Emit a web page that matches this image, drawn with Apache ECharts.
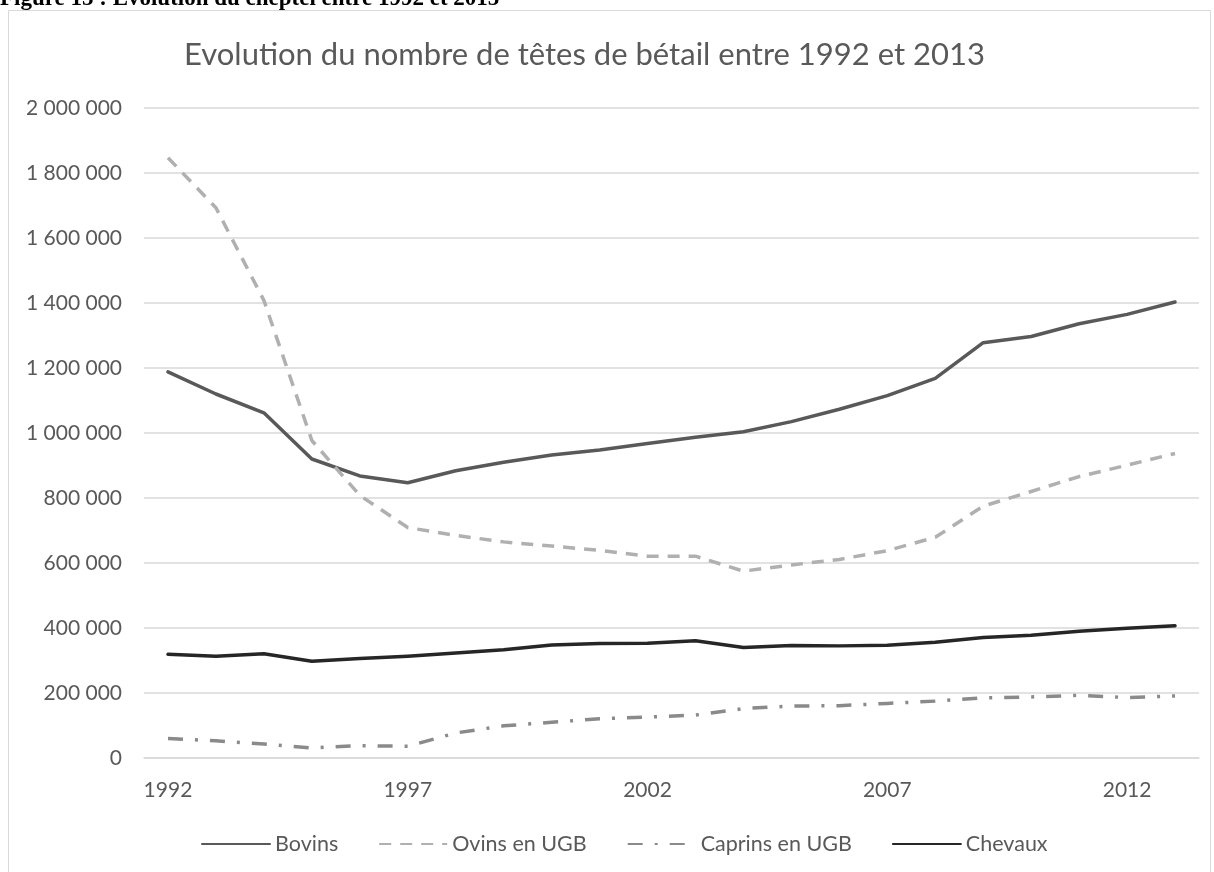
<!DOCTYPE html>
<html>
<head>
<meta charset="utf-8">
<script src="https://cdn.jsdelivr.net/npm/echarts@6/dist/echarts.min.js"></script>
<style>
  html, body { margin: 0; padding: 0; background: #fff; }
  #chart { width: 1214px; height: 872px; }
</style>
</head>
<body>
<div id="chart"></div>
<script>
// données
const years = ['1992', '1993', '1994', '1995', '1996', '1997', '1998', '1999', '2000', '2001', '2002',
  '2003', '2004', '2005', '2006', '2007', '2008', '2009', '2010', '2011', '2012', '2013']
const bovins = [1188000, 1120000, 1062000, 920000, 868000, 847000, 884000, 910000, 932000, 948000, 968000,
  987000, 1004000, 1035000, 1073000, 1115000, 1168000, 1278000, 1297000, 1336000, 1365000, 1403000]
const ovins = [1847000, 1693000, 1408000, 977000, 808000, 709000, 685000, 665000, 652000, 639000, 621000,
  621000, 575000, 594000, 611000, 638000, 679000, 775000, 820000, 866000, 901000, 937000]
const caprins = [60000, 53000, 43000, 31000, 38000, 36000, 77000, 99000, 110000, 121000, 126000,
  132000, 152000, 160000, 161000, 168000, 175000, 185000, 188000, 193000, 186000, 191000]
const chevaux = [319000, 313000, 321000, 298000, 306000, 313000, 323000, 333000, 348000, 352000, 353000,
  361000, 340000, 346000, 345000, 347000, 356000, 371000, 378000, 390000, 399000, 407000]

const font = 'Lato, "Open Sans", sans-serif'
const grey = '#595959'

const myChart = echarts.init(document.getElementById('chart'))

const option = {
  animation: false,
  textStyle: { fontFamily: font },
  title: {
    text: 'Evolution du nombre de têtes de bétail entre 1992 et 2013',
    left: 179,
    top: 34,
    textStyle: { fontFamily: font, fontSize: 31, fontWeight: 'normal', color: grey }
  },
  graphic: [
    {
      // légende de la figure, coupée en haut de l'image
      type: 'text',
      x: 0,
      y: 11,
      style: {
        text: 'Figure 15 : Evolution du cheptel entre 1992 et 2015',
        fontFamily: '"Liberation Serif", "Times New Roman", serif',
        fontWeight: 'bold',
        fontSize: 23,
        verticalAlign: 'bottom',
        fill: '#000'
      }
    },
    {
      type: 'rect',
      shape: { x: 8.5, y: 10.5, width: 1202, height: 880 },
      style: { fill: '#fff', stroke: '#d9d9d9', lineWidth: 1 },
      z: -10
    }
  ],
  legend: {
    top: 828,
    left: 196,
    itemWidth: 68,
    itemHeight: 20,
    itemGap: 40,
    itemStyle: { opacity: 0 },
    textStyle: { fontFamily: font, fontSize: 21.5, color: grey },
    data: ['Bovins', 'Ovins en UGB', 'Caprins en UGB', 'Chevaux']
  },
  grid: {
    left: 144,
    right: 15,
    top: 108,
    bottom: 114
  },
  xAxis: {
    type: 'category',
    data: years,
    boundaryGap: true,
    axisLine: { lineStyle: { color: '#d9d9d9', width: 1.5 } },
    axisTick: { show: false },
    axisLabel: {
      interval: 4,
      margin: 22,
      fontSize: 21,
      color: grey,
      fontFamily: font
    }
  },
  yAxis: {
    type: 'value',
    min: 0,
    max: 2000000,
    interval: 200000,
    axisLine: { show: false },
    axisTick: { show: false },
    splitLine: { lineStyle: { color: '#d9d9d9', width: 1.5 } },
    axisLabel: {
      margin: 22,
      fontSize: 21,
      color: grey,
      fontFamily: font,
      formatter: v => String(v).replace(/\B(?=(\d{3})+(?!\d))/g, ' ')
    }
  },
  series: [
    {
      name: 'Bovins',
      type: 'line',
      data: bovins,
      symbol: 'none',
      lineStyle: { color: '#595959', width: 3.5, cap: 'round', join: 'round' },
      itemStyle: { color: '#595959' }
    },
    {
      name: 'Ovins en UGB',
      type: 'line',
      data: ovins,
      symbol: 'none',
      lineStyle: { color: '#b0b0b0', width: 3.5, type: [12, 9], join: 'round' },
      itemStyle: { color: '#b0b0b0' }
    },
    {
      name: 'Caprins en UGB',
      type: 'line',
      data: caprins,
      symbol: 'none',
      lineStyle: { color: '#8a8a8a', width: 3.5, type: [15, 12, 3, 12], join: 'round' },
      itemStyle: { color: '#8a8a8a' }
    },
    {
      name: 'Chevaux',
      type: 'line',
      data: chevaux,
      symbol: 'none',
      lineStyle: { color: '#262626', width: 3.5, cap: 'round', join: 'round' },
      itemStyle: { color: '#262626' }
    }
  ]
}

myChart.setOption(option)
</script>
</body>
</html>
